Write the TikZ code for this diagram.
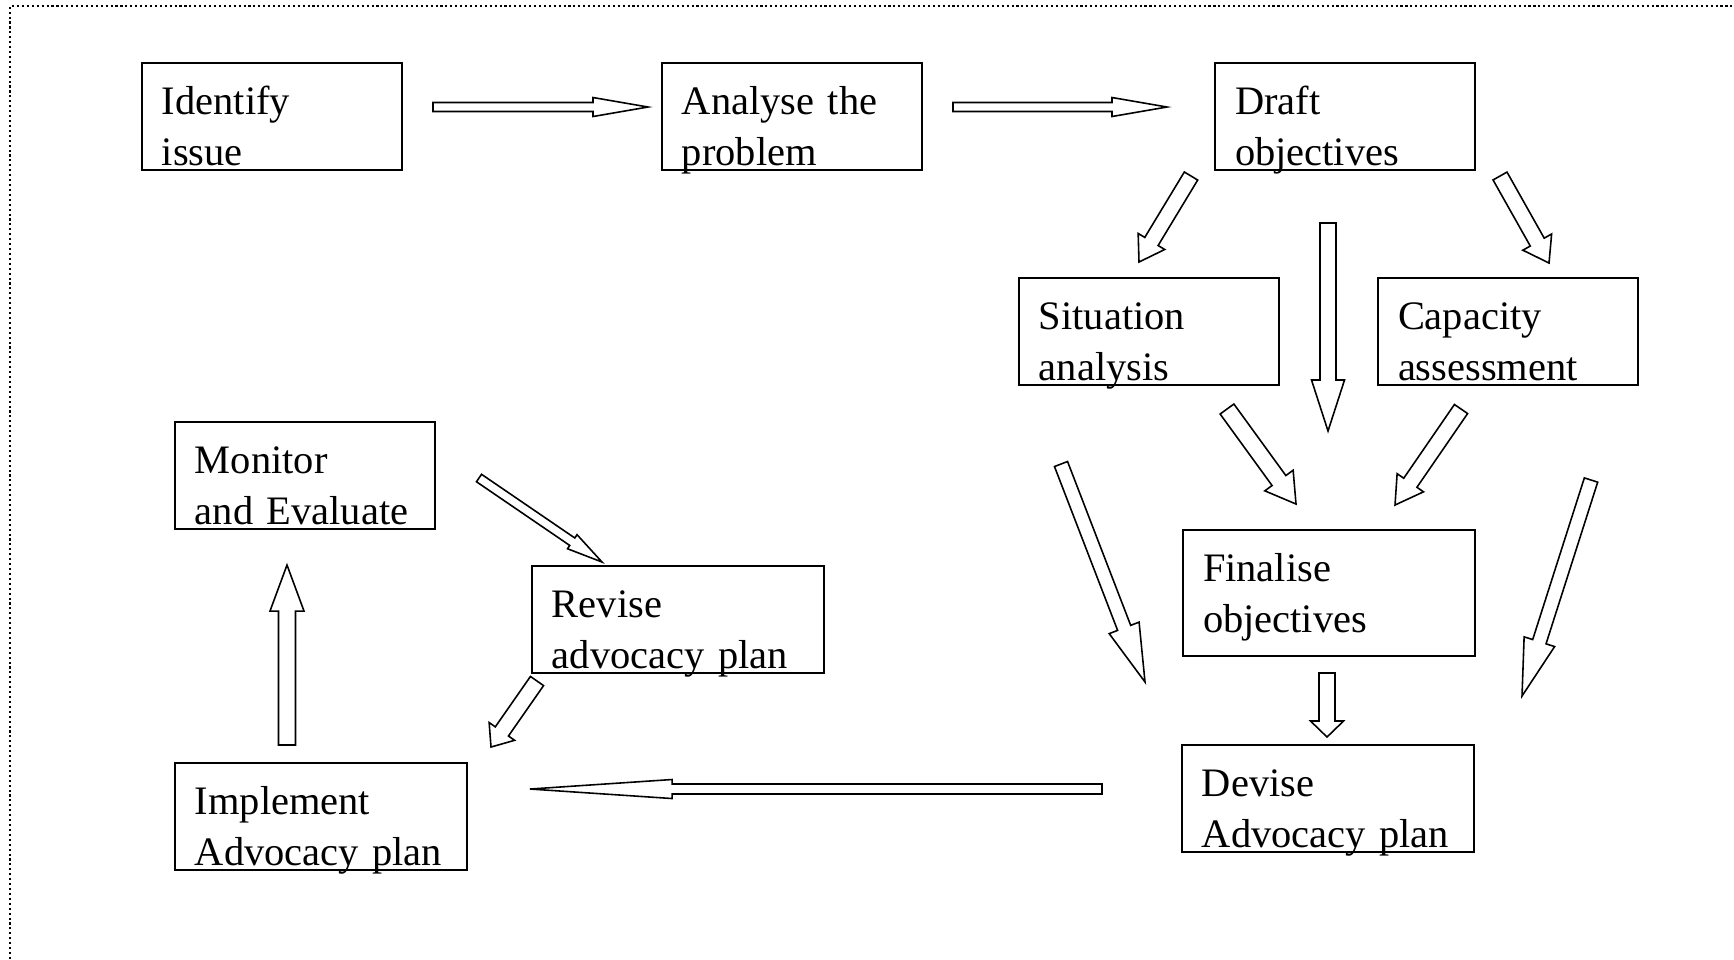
\documentclass[tikz,border=0pt]{standalone}
\usepackage{fontspec}
\setmainfont{Liberation Serif}
\usetikzlibrary{calc}

\tikzset{
  box/.style={draw, line width=0.55pt, anchor=north west, rectangle,
    minimum width=2.6cm, minimum height=1.07cm, text width=2.2cm,
    inner xsep=0.2cm, inner ysep=0pt, text height=0.51cm, text depth=0.56cm,
    align=left, font=\fontsize{11.5}{14.5}\selectfont},
  widebox/.style={box, minimum width=2.92cm, text width=2.52cm},
  hollow/.style={draw, fill=white, line width=0.45pt, line join=miter},
  frame/.style={line width=0.45pt, dash pattern=on 0.6pt off 0.8pt}
}

% block arrow: tail, tip, shaft half width, head half width, head length
\newcommand{\blockarrow}[5]{%
  \coordinate (bahead) at ($(#2)!#5!(#1)$);
  \draw[hollow] ($(#1)!#3!90:(#2)$) -- ($(bahead)!#3!90:(#2)$) -- ($(bahead)!#4!90:(#2)$)
    -- (#2) -- ($(bahead)!#4!-90:(#2)$) -- ($(bahead)!#3!-90:(#2)$) -- ($(#1)!#3!-90:(#2)$) -- cycle;
}

\begin{document}
\begin{tikzpicture}[x=0.01cm, y=-0.01cm]
    \useasboundingbox (0,0) rectangle (1734,959);

    % Frame
    \draw[frame] (10,959) -- (10,6) -- (1734,6);

    % Steps
    \node[box] (identify) at (141,62) {Identify\\issue};
    \node[box] (analyse) at (661,62) {Analyse the\\problem};
    \node[box] (draft) at (1214,62) {Draft\\objectives};
    \node[box] (situation) at (1018,277) {Situation\\analysis};
    \node[box] (capacity) at (1377,277) {Capacity\\assessment};
    \node[box] (monitor) at (174,421) {Monitor\\and Evaluate};
    \node[widebox] (revise) at (531,565) {Revise\\advocacy plan};
    \node[widebox, minimum height=1.26cm, text depth=0.75cm] (finalise) at (1182,529) {Finalise\\objectives};
    \node[widebox] (devise) at (1181,744) {Devise\\Advocacy plan};
    \node[widebox] (implement) at (174,762) {Implement\\Advocacy plan};

    % Arrow ends
    \coordinate (ia-s) at (433,107);  \coordinate (ia-e) at (648,107);
    \coordinate (ad-s) at (953,107);  \coordinate (ad-e) at (1167,107);
    \coordinate (ds-s) at (1191,176); \coordinate (ds-e) at (1139,262);
    \coordinate (dc-s) at (1500,176); \coordinate (dc-e) at (1549,263);
    \coordinate (df-s) at (1328,223); \coordinate (df-e) at (1328,431);
    \coordinate (sf-s) at (1227,409); \coordinate (sf-e) at (1296,504);
    \coordinate (cf-s) at (1461,409); \coordinate (cf-e) at (1395,505);
    \coordinate (sd-s) at (1061,464); \coordinate (sd-e) at (1145,682);
    \coordinate (cd-s) at (1591,480); \coordinate (cd-e) at (1522,696);
    \coordinate (fd-s) at (1327,673); \coordinate (fd-e) at (1327,737);
    \coordinate (di-s) at (1102,789); \coordinate (di-e) at (530,789);
    \coordinate (im-s) at (287,745);  \coordinate (im-e) at (287,565);
    \coordinate (mr-s) at (479,478);  \coordinate (mr-e) at (602,562);
    \coordinate (ri-s) at (537,681);  \coordinate (ri-e) at (491,747);

    % Arrows
    \blockarrow{ia-s}{ia-e}{0.45mm}{0.95mm}{5.5mm}
    \blockarrow{ad-s}{ad-e}{0.45mm}{0.95mm}{5.5mm}
    \blockarrow{ds-s}{ds-e}{0.78mm}{1.55mm}{2.4mm}
    \blockarrow{dc-s}{dc-e}{0.8mm}{1.65mm}{2.4mm}
    \blockarrow{df-s}{df-e}{0.8mm}{1.65mm}{5.1mm}
    \blockarrow{sf-s}{sf-e}{0.85mm}{1.75mm}{2.9mm}
    \blockarrow{cf-s}{cf-e}{0.8mm}{1.6mm}{2.7mm}
    \blockarrow{sd-s}{sd-e}{0.7mm}{1.6mm}{5.8mm}
    \blockarrow{cd-s}{cd-e}{0.7mm}{1.6mm}{5.7mm}
    \blockarrow{fd-s}{fd-e}{0.8mm}{1.65mm}{1.6mm}
    \blockarrow{di-s}{di-e}{0.5mm}{0.95mm}{14.2mm}
    \blockarrow{im-s}{im-e}{0.85mm}{1.7mm}{4.6mm}
    \blockarrow{mr-s}{mr-e}{0.45mm}{0.85mm}{3.6mm}
    \blockarrow{ri-s}{ri-e}{0.8mm}{1.55mm}{1.9mm}
\end{tikzpicture}
\end{document}
